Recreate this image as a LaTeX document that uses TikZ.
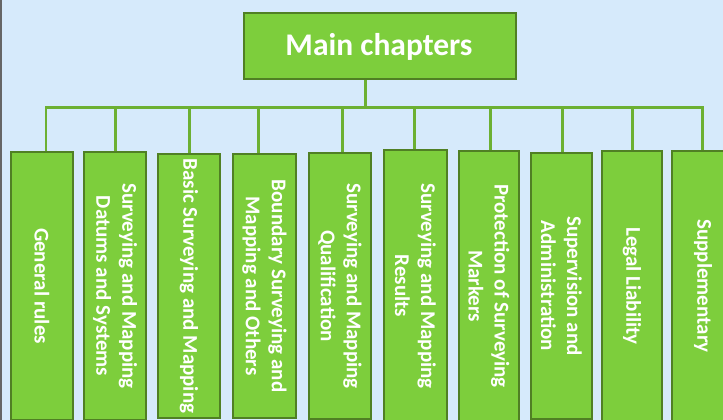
\documentclass[tikz,border=0pt]{standalone}
\usepackage{fontspec}
\setmainfont{Carlito}
\definecolor{bgblue}{RGB}{214,234,251}
\definecolor{boxfill}{RGB}{125,206,60}
\definecolor{boxline}{RGB}{80,128,36}
\definecolor{connc}{RGB}{108,176,50}
\tikzset{
  chbox/.style={draw=boxline, fill=boxfill, line width=2pt, inner sep=0pt},
  lbl/.style={text=white, font=\fontsize{21}{26}\selectfont\bfseries, align=center, inner sep=0pt, rotate=-90},
  ttl/.style={text=white, font=\fontsize{31.5}{36}\selectfont\bfseries, inner sep=0pt},
  conn/.style={draw=connc, line width=3pt},
}
\begin{document}
\begin{tikzpicture}[x=1pt,y=-1pt]
\useasboundingbox (0,0) rectangle (723,420);
\clip (0,0) rectangle (723,420);
\fill[bgblue] (0,0) rectangle (723,420);
\draw[gray!80!black, line width=1.5pt] (0.75,0) -- (0.75,420);

% main box
\node[chbox, minimum width=272pt, minimum height=66pt] (main) at (380,46) {};
\node[ttl] (maint) at (379,47) {Main chapters};

% chapter boxes: center x, top edge (path), width
\node[chbox, minimum width=62pt, minimum height=268pt] (b1) at (42,286) {};
\node[chbox, minimum width=62pt, minimum height=268pt] (b2) at (115,286) {};
\node[chbox, minimum width=62pt, minimum height=264pt] (b3) at (189,286) {};
\node[chbox, minimum width=63pt, minimum height=264pt] (b4) at (264.5,286) {};
\node[chbox, minimum width=62pt, minimum height=266pt] (b5) at (340,286) {};
\node[chbox, minimum width=63pt, minimum height=272pt] (b6) at (415.5,286) {};
\node[chbox, minimum width=60pt, minimum height=270pt] (b7) at (489,286) {};
\node[chbox, minimum width=61pt, minimum height=266pt] (b8) at (561.5,286) {};
\node[chbox, minimum width=60pt, minimum height=270pt] (b9) at (632,286) {};
\node[chbox, minimum width=62pt, minimum height=270pt] (b10) at (703,286) {};

% labels
\node[lbl] (t1) at (b1.center) {General rules};
\node[lbl] (t2) at (b2.center) {Surveying and Mapping\\Datums and Systems};
\node[lbl] (t3) at (b3.center) {Basic Surveying and Mapping};
\node[lbl] (t4) at (b4.center) {Boundary Surveying and\\Mapping and Others};
\node[lbl] (t5) at (b5.center) {Surveying and Mapping\\Qualification};
\node[lbl] (t6) at (b6.center) {Surveying and Mapping\\Results};
\node[lbl] (t7) at (b7.center) {Protection of Surveying\\Markers};
\node[lbl] (t8) at (b8.center) {Supervision and\\Administration};
\node[lbl] (t9) at (b9.center) {Legal Liability};
\node[lbl] (t10) at (b10.center) {Supplementary};

% bus junctions
\coordinate (m) at (365,107.5);
\coordinate (j1) at (46,107.5);
\coordinate (j2) at (115,107.5);
\coordinate (j3) at (189,107.5);
\coordinate (j4) at (258,107.5);
\coordinate (j5) at (342,107.5);
\coordinate (j6) at (414,107.5);
\coordinate (j7) at (490,107.5);
\coordinate (j8) at (562,107.5);
\coordinate (j9) at (632,107.5);
\coordinate (j10) at (702,107.5);

% connectors
\draw[conn] (main.south -| m) -- (m);
\draw[conn, line cap=rect] (j1) -- (j10);
\draw[conn, line width=2.2pt] (j1) -- (j1 |- b1.north);
\foreach \i in {2,...,10} {
  \draw[conn] (j\i) -- (j\i |- b\i.north);
}
\end{tikzpicture}
\end{document}
